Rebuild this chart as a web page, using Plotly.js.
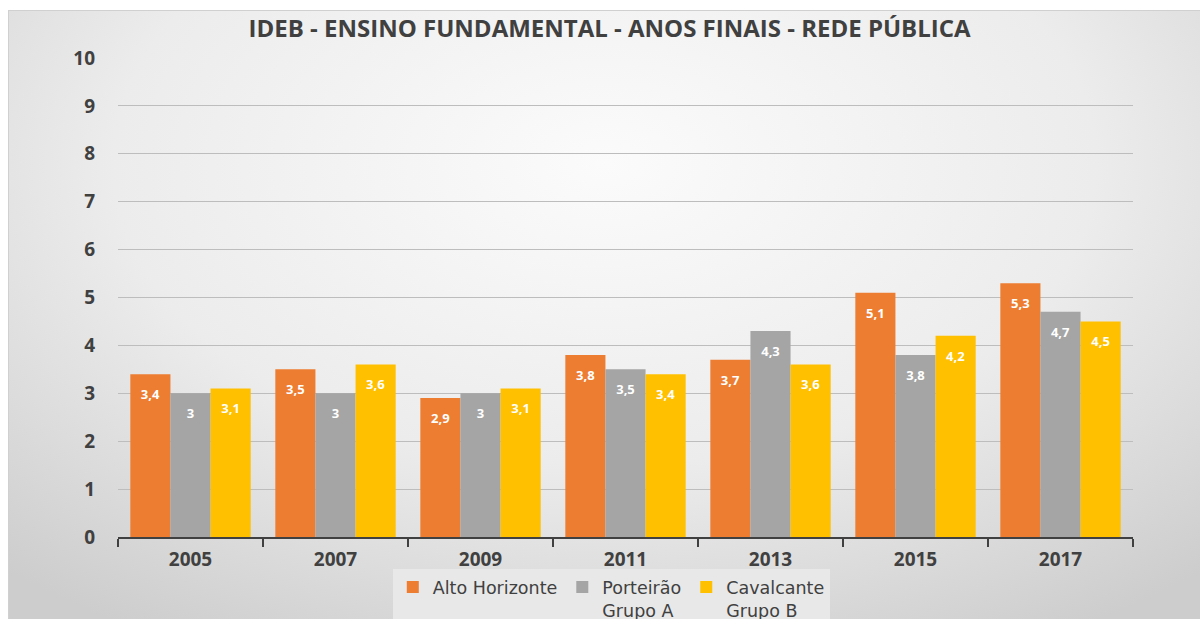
<!DOCTYPE html>
<html>
<head>
<meta charset="utf-8">
<script src="https://cdn.plot.ly/plotly-3.0.1.min.js"></script>
<style>
  html, body { margin: 0; padding: 0; background: #ffffff; width: 1200px; height: 619px; overflow: hidden; }
  #bg { position: absolute; left: 8px; top: 10px; width: 1192px; height: 609px;
        background: radial-gradient(ellipse 75% 90% at 50% 25%, #fbfbfb 0%, #ececec 55%, #cdcdcd 100%);
        border-top: 1px solid #d0d0d0; border-left: 1px solid #d0d0d0; }
  #chart { position: absolute; left: 0; top: 0; width: 1200px; height: 650px; }
</style>
</head>
<body>
<div id="bg"></div>
<div id="chart"></div>
<script>
const years = ["2005", "2007", "2009", "2011", "2013", "2015", "2017"];
const altoHorizonte = [3.4, 3.5, 2.9, 3.8, 3.7, 5.1, 5.3];
const porteirao = [3.0, 3.0, 3.0, 3.5, 4.3, 3.8, 4.7];
const cavalcante = [3.1, 3.6, 3.1, 3.4, 3.6, 4.2, 4.5];
const seriesNames = ["Alto Horizonte", "Porteirão<br>Grupo A", "Cavalcante<br>Grupo B"];
const colors = ["#ED7D31", "#A5A5A5", "#FFC000"];
const titleText = "IDEB - ENSINO FUNDAMENTAL - ANOS FINAIS - REDE PÚBLICA";

const allSeries = [altoHorizonte, porteirao, cavalcante];
const traces = allSeries.map((vals, i) => ({
  type: "bar",
  x: years,
  y: vals,
  name: seriesNames[i],
  marker: { color: colors[i] },
  texttemplate: "<span style='font-size:5px'> </span><br>%{y}",
  textposition: "inside",
  insidetextanchor: "end",
  textangle: 0,
  textfont: { family: "Open Sans", size: 13, color: "#ffffff", weight: "bold" },
  hoverinfo: "x+y+name"
}));

const layout = {
  width: 1200,
  height: 650,
  paper_bgcolor: "rgba(0,0,0,0)",
  plot_bgcolor: "rgba(0,0,0,0)",
  separators: ",.",
  margin: { l: 118, r: 67, t: 58, b: 113 },
  barmode: "group",
  bargap: 0.17,
  bargroupgap: 0,
  title: {
    text: titleText,
    x: 0.508, xanchor: "center",
    y: 35, yref: "container", yanchor: "middle",
    font: { family: "Open Sans", size: 24, color: "#404040", weight: "bold" }
  },
  xaxis: {
    type: "category",
    showgrid: false,
    showline: true,
    linecolor: "#404040",
    linewidth: 1.5,
    ticks: "outside",
    tickson: "boundaries",
    ticklen: 8,
    tickcolor: "#404040",
    tickwidth: 1.5,
    ticklabelstandoff: 5,
    tickfont: { family: "Open Sans", size: 19, color: "#404040", weight: "bold" }
  },
  yaxis: {
    range: [0, 10],
    dtick: 1,
    showgrid: true,
    gridcolor: "#bdbdbd",
    gridwidth: 1,
    zeroline: false,
    showline: false,
    ticks: "",
    ticklabelstandoff: 22,
    tickfont: { family: "Open Sans", size: 19, color: "#404040", weight: "bold" }
  },
  showlegend: true,
  legend: {
    orientation: "h",
    x: 0.486, xanchor: "center",
    y: -0.067, yanchor: "top",
    bgcolor: "#e8e8e8",
    font: { family: "DejaVu Sans", size: 17.5, color: "#404040" },
    valign: "top",
    itemclick: false
  }
};

Plotly.newPlot("chart", traces, layout, { displayModeBar: false, staticPlot: true });
</script>
</body>
</html>
